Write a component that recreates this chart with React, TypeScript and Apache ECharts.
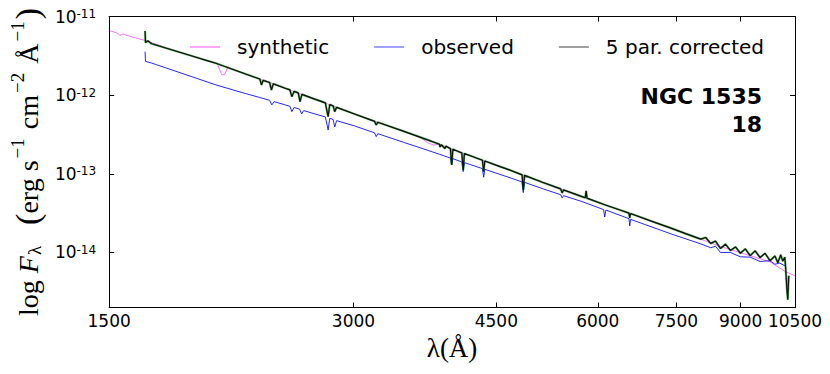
import React, { useEffect, useRef } from "react";
import * as echarts from "echarts";

// ---- tick labels ----
const xTickWaves = [1500, 3000, 4500, 6000, 7500, 9000, 10500];
const yTickExponents = [-14, -13, -12, -11];

// ---- synthetic spectrum (wavelength in Å, log10 flux) ----
const synthWave = [1500, 1534, 1547, 1560, 1600, 1664, 1841, 1975, 2037, 2048, 2065, 2083, 2100, 2118, 2472, 3009, 3630, 3702, 3765, 3829, 4494, 5737, 7385, 8500, 9780, 10201, 10500];
const synthLogF = [-11.178, -11.21, -11.241, -11.222, -11.26, -11.307, -11.461, -11.557, -11.598, -11.654, -11.743, -11.737, -11.642, -11.663, -11.912, -12.239, -12.537, -12.607, -12.633, -12.625, -12.889, -13.29, -13.691, -13.925, -14.119, -14.24, -14.297];

// ---- observed spectrum ----
const obsWave = [1661, 1663, 1692, 1716, 1765, 1841, 1920, 2031, 2209, 2300, 2365, 2380, 2395, 2472, 2505, 2519, 2535, 2575, 2590, 2605, 2689, 2770, 2792, 2805, 2832, 2845, 2860, 3009, 3185, 3200, 3215, 3461, 3630, 3830, 3950, 3964, 3978, 4080, 4096, 4110, 4325, 4341, 4355, 4494, 4650, 4840, 4857, 4875, 5127, 5400, 5423, 5445, 5737, 6100, 6119, 6140, 6555, 6570, 6585, 7385, 8036, 8265, 8380, 8500, 8742, 8991, 9246, 9510, 9780, 9918, 10059, 10201, 10229];
const obsLogF = [-11.447, -11.57, -11.592, -11.613, -11.656, -11.72, -11.784, -11.87, -11.98, -12.03, -12.066, -12.124, -12.083, -12.124, -12.141, -12.21, -12.157, -12.178, -12.239, -12.196, -12.239, -12.277, -12.442, -12.295, -12.309, -12.404, -12.324, -12.391, -12.479, -12.527, -12.49, -12.601, -12.671, -12.752, -12.8, -12.887, -12.808, -12.849, -12.972, -12.858, -12.934, -13.043, -12.943, -12.991, -13.041, -13.103, -13.239, -13.109, -13.188, -13.266, -13.306, -13.278, -13.353, -13.455, -13.548, -13.461, -13.57, -13.662, -13.579, -13.764, -13.891, -13.94, -13.922, -14.0, -14.0, -14.055, -14.06, -14.115, -14.105, -14.15, -14.135, -14.17, -14.15];

// ---- 5 parameter corrected spectrum ----
const corrWave = [1661, 1663, 1675, 1692, 1716, 1765, 1841, 1920, 1975, 2031, 2209, 2272, 2300, 2311, 2322, 2365, 2377, 2390, 2472, 2505, 2519, 2535, 2565, 2578, 2592, 2689, 2770, 2792, 2805, 2832, 2845, 2860, 3009, 3185, 3200, 3215, 3461, 3630, 3702, 3830, 3835, 3850, 3889, 3900, 3950, 3964, 3978, 4080, 4096, 4110, 4213, 4325, 4341, 4355, 4494, 4650, 4840, 4857, 4875, 5127, 5400, 5423, 5445, 5737, 5790, 5806, 5820, 6119, 6418, 6555, 6570, 6585, 6982, 7385, 7700, 8036, 8150, 8265, 8380, 8500, 8620, 8742, 8870, 8991, 9119, 9246, 9377, 9510, 9644, 9780, 9918, 10000, 10085, 10141, 10201, 10229, 10258, 10287, 10316];
const corrLogF = [-11.184, -11.33, -11.31, -11.347, -11.365, -11.404, -11.461, -11.518, -11.557, -11.595, -11.731, -11.776, -11.794, -11.87, -11.812, -11.839, -11.934, -11.856, -11.912, -11.933, -12.019, -11.952, -11.971, -12.083, -11.99, -12.051, -12.098, -12.273, -12.119, -12.137, -12.21, -12.155, -12.239, -12.333, -12.379, -12.344, -12.46, -12.537, -12.569, -12.625, -12.66, -12.631, -12.68, -12.648, -12.68, -12.887, -12.687, -12.735, -12.95, -12.743, -12.783, -12.827, -12.972, -12.837, -12.889, -12.944, -13.013, -13.205, -13.02, -13.108, -13.192, -13.243, -13.205, -13.29, -13.305, -13.217, -13.31, -13.393, -13.467, -13.5, -13.56, -13.505, -13.601, -13.691, -13.761, -13.831, -13.81, -13.885, -13.855, -13.95, -13.895, -13.975, -13.93, -14.01, -13.955, -14.04, -13.98, -14.065, -14.01, -14.105, -14.045, -14.13, -14.03, -14.11, -14.06, -14.221, -14.45, -14.602, -14.297];

const X_MIN = Math.log10(1500);
const X_MAX = Math.log10(10500);
const Y_MIN = -14.7;
const Y_MAX = -11;

const toData = (w: number[], f: number[]) => w.map((v, i) => [Math.log10(v), f[i]]);

export default function App() {
  const ref = useRef<HTMLDivElement>(null);
  useEffect(() => {
    if (!ref.current) return;
    document.body.style.margin = "0";
    const chart = echarts.init(ref.current, undefined, { renderer: "svg" });
    const xTicks = xTickWaves.map((v) => Math.log10(v));
    const sans = "DejaVu Sans";
    const serif = "Liberation Serif";
    const frame = { show: true, onZero: false, lineStyle: { color: "#000", width: 1 } };
    const line = (name: string, w: number[], f: number[], color: string, width: number, opacity: number, z: number) => ({
      type: "line",
      name,
      data: toData(w, f),
      showSymbol: false,
      symbol: "none",
      silent: true,
      z,
      lineStyle: { color, width, opacity },
      itemStyle: { color },
    });
    const bold = { fontSize: 22, fontWeight: "bold", fontFamily: sans, fill: "#000" };
    chart.setOption({
      animation: false,
      grid: { left: 102, right: 35, top: 16.5, bottom: 66.5 },
      legend: {
        left: 185,
        top: 32,
        itemWidth: 30,
        itemHeight: 1.5,
        itemGap: 45,
        icon: "rect",
        textStyle: { fontSize: 20, fontFamily: sans, color: "#000", padding: [0, 0, 0, 12] },
        data: [
          { name: "synthetic", icon: "rect", itemStyle: { color: "#ff88ff", opacity: 1 } },
          { name: "observed", icon: "rect", itemStyle: { color: "#8080ff", opacity: 1 } },
          { name: "5 par. corrected", icon: "rect", itemStyle: { color: "#808080", opacity: 1 } },
        ],
      },
      graphic: [
        { type: "text", right: 68, top: 85, style: { ...bold, text: "NGC 1535" } },
        { type: "text", right: 68, top: 113, style: { ...bold, text: "18" } },
      ],
      xAxis: [
        {
          type: "value",
          min: X_MIN,
          max: X_MAX,
          position: "bottom",
          axisLine: frame,
          axisTick: { show: true, inside: true, length: 5, customValues: xTicks, lineStyle: { color: "#000" } },
          axisLabel: {
            customValues: xTicks,
            formatter: (v: number) => String(Math.round(Math.pow(10, v))),
            fontSize: 17,
            fontFamily: sans,
            color: "#000",
            margin: 5,
          },
          splitLine: { show: false },
          name: "λ(Å)",
          nameLocation: "middle",
          nameGap: 26,
          nameTextStyle: { fontFamily: serif, fontSize: 27, color: "#000" },
        },
        {
          type: "value",
          min: X_MIN,
          max: X_MAX,
          position: "top",
          axisLine: frame,
          axisTick: { show: true, inside: true, length: 5, customValues: xTicks, lineStyle: { color: "#000" } },
          axisLabel: { show: false },
          splitLine: { show: false },
        },
      ],
      yAxis: [
        {
          type: "value",
          min: Y_MIN,
          max: Y_MAX,
          position: "left",
          axisLine: frame,
          axisTick: { show: true, inside: true, length: 5, customValues: yTickExponents, lineStyle: { color: "#000" } },
          axisLabel: {
            customValues: yTickExponents,
            formatter: (v: number) => `{b|10}{s|${Math.round(v)}}`,
            margin: 13,
            rich: {
              b: { fontSize: 17, fontFamily: sans, color: "#000", lineHeight: 17, verticalAlign: "bottom" },
              s: { fontSize: 12, fontFamily: sans, color: "#000", lineHeight: 12, verticalAlign: "top", padding: [0, 0, 10, 0] },
            },
          },
          splitLine: { show: false },
          name: "{n|log }{i|F}{sub|λ}{n|   }{p|(}{n|erg s}{sup|−1}{n| cm}{sup|−2}{n| Å}{sup|−1}{p|)}",
          nameLocation: "middle",
          nameRotate: 90,
          nameGap: 56,
          nameTextStyle: {
            rich: {
              n: { fontFamily: serif, fontSize: 28, color: "#000", lineHeight: 28, verticalAlign: "bottom", padding: [0, 0, 2, 0] },
              i: { fontFamily: serif, fontStyle: "italic", fontSize: 28, color: "#000", lineHeight: 28, verticalAlign: "bottom", padding: [0, 0, 2, 0] },
              sub: { fontFamily: serif, fontSize: 19, color: "#000", lineHeight: 19, verticalAlign: "bottom", padding: [0, 0, 0, 1] },
              sup: { fontFamily: serif, fontSize: 19, color: "#000", lineHeight: 19, verticalAlign: "top", padding: [0, 2, 0, 2] },
              p: { fontFamily: serif, fontSize: 34, color: "#000", lineHeight: 36, verticalAlign: "bottom" },
            },
          },
        },
        {
          type: "value",
          min: Y_MIN,
          max: Y_MAX,
          position: "right",
          axisLine: frame,
          axisTick: { show: true, inside: true, length: 5, customValues: yTickExponents, lineStyle: { color: "#000" } },
          axisLabel: { show: false },
          splitLine: { show: false },
        },
      ],
      series: [
        line("synthetic", synthWave, synthLogF, "#ff00ff", 1, 0.55, 2),
        line("observed", obsWave, obsLogF, "#0000ff", 1, 0.85, 3),
        line("corrected envelope", corrWave, corrLogF, "#0a8a0a", 2.2, 0.6, 4),
        line("5 par. corrected", corrWave, corrLogF, "#000000", 1.2, 0.9, 5),
      ],
    });
    return () => chart.dispose();
  }, []);
  return <div ref={ref} style={{ width: 830, height: 374 }} />;
}
